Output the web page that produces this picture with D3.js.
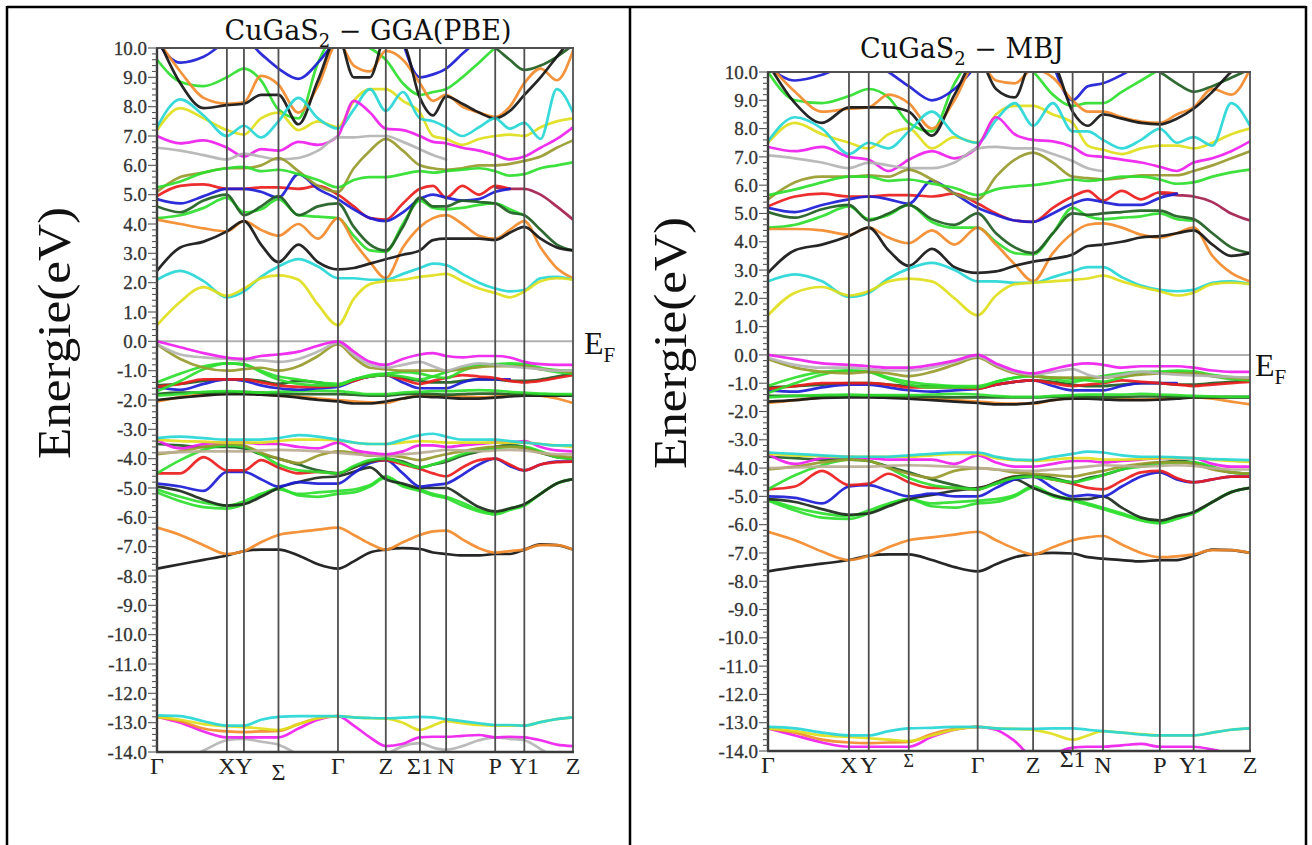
<!DOCTYPE html>
<html>
<head>
<meta charset="utf-8">
<script src="https://cdn.jsdelivr.net/npm/d3@7"></script>
<style>
  body { margin: 0; background: #fff; }
  svg { display: block; }
</style>
</head>
<body>
<svg id="fig" width="1312" height="845"></svg>
<script>
// k-path of the chalcopyrite cell
const kNames = ["Γ", "X", "Y", "Σ", "Γ", "Z", "Σ1", "N", "P", "Y1", "Z"];
const kPos = [0, .168, .209, .292, .435, .55, .632, .695, .813, .883, 1];
const kGrid = [0, .056, .112, .168, .209, .25, .292, .34, .387, .435, .473, .512, .55,
               .591, .632, .6635, .695, .734, .774, .813, .848, .883, .922, .961, 1];
const yTicks = [10, 9, 8, 7, 6, 5, 4, 3, 2, 1, 0, -1, -2, -3, -4, -5, -6, -7, -8, -9, -10, -11, -12, -13, -14];
const _ = null;

// ---------- GGA(PBE) ----------
const ggaCore = [
  [-14.6,-14.3,-13.95,-13.6,-13.55, -13.65,-13.75,-14.1,-14.5,-14.6, -14.6,-14.4,-14.1,-13.8,-13.7, -13.85,-13.92,-13.8,-13.6,-13.5, -13.55,-13.6,-13.9,-14.2,-14.4],
  [-12.8,-13.0,-13.3,-13.5,-13.5, -13.5,-13.5,-13.2,-12.9,-12.78, -13.1,-13.5,-13.8,-13.72,-13.5, -13.48,-13.48,-13.45,-13.42,-13.5, -13.48,-13.5,-13.6,-13.75,-13.8],
  [-12.8,-12.95,-13.2,-13.3,-13.32, -13.3,-13.28,-13.05,-12.85,-12.78, _,_,_,_,_, _,_,_,_,_, _,_,_,_,_],
  [-12.8,-12.9,-13.05,-13.12,-13.15, -13.2,-13.25,-13.05,-12.85,-12.78, -12.82,-12.85,-12.86,-13.0,-13.25, -13.1,-12.95,-13.02,-13.08,-13.1, -13.1,-13.1,-12.98,-12.88,-12.82],
  [-12.75,-12.78,-12.95,-13.1,-13.1, -12.9,-12.8,-12.78,-12.78,-12.78, -12.82,-12.84,-12.85,-12.83,-12.8, -12.82,-12.88,-12.95,-13.02,-13.08, -13.08,-13.1,-12.98,-12.88,-12.82]
];
const ggaLow = [
  [-7.75,-7.6,-7.45,-7.3,-7.15, -7.1,-7.1,-7.3,-7.6,-7.75, -7.5,-7.2,-7.1,-7.05,-7.08, -7.2,-7.25,-7.3,-7.3,-7.25, -7.25,-7.1,-6.92,-6.95,-7.1],
  [-6.35,-6.6,-6.95,-7.25,-7.15, -6.85,-6.6,-6.5,-6.42,-6.35, -6.6,-6.9,-7.1,-6.85,-6.6, -6.48,-6.45,-6.75,-7.05,-7.2, -7.15,-7.1,-6.95,-6.95,-7.1],
  [-5.15,-5.45,-5.65,-5.7,-5.55, -5.25,-5.0,-5.25,-5.3,-5.2, -5.15,-4.95,-4.65,-4.95,-5.1, -5.25,-5.35,-5.6,-5.8,-5.9, -5.75,-5.6,-5.2,-4.85,-4.7],
  [-5.05,-5.3,-5.5,-5.6,-5.45, -5.2,-5.05,-5.2,-5.15,-5.1, -5.05,-4.9,-4.6,-4.9,-5.05, -5.2,-5.3,-5.5,-5.75,-5.85, -5.7,-5.55,-5.2,-4.85,-4.7],
  [-4.95,-5.1,-5.4,-5.6,-5.55, -5.3,-5.0,-4.8,-4.65,-4.6, -4.45,-4.3,-4.7,-4.85,-5.0, -5.0,-5.0,-5.3,-5.65,-5.8, -5.7,-5.55,-5.2,-4.85,-4.7],
  [-4.85,-4.95,-5.1,-4.45,-4.45, -4.7,-4.95,-4.8,-4.85,-4.85, -4.5,-4.15,-4.05,-4.5,-4.95, -4.9,-4.85,-4.55,-4.2,-4.0, -4.25,-4.4,-4.2,-4.1,-4.1],
  [-4.5,-4.5,-3.95,-4.4,-4.4, -4.05,-4.3,-4.5,-4.45,-4.5, -4.3,-4.1,-4.05,-4.2,-4.35, -4.5,-4.6,-4.3,-4.05,-4.0, -4.2,-4.4,-4.2,-4.12,-4.1],
  [-3.5,-3.55,-3.6,-3.6,-3.65, -3.85,-4.0,-4.2,-4.4,-4.5, -4.3,-4.1,-4.0,-4.1,-4.3, -4.2,-4.1,-3.9,-3.75,-3.6, -3.55,-3.6,-3.8,-3.95,-4.0],
  [-4.5,-4.05,-3.7,-3.55,-3.6, -3.85,-4.2,-4.4,-4.45,-4.5, -4.25,-4.05,-4.0,-4.15,-4.3, -4.2,-4.05,-3.85,-3.7,-3.65, -3.6,-3.6,-3.75,-3.95,-4.0],
  [-3.85,-3.75,-3.6,-3.5,-3.55, -3.8,-4.0,-4.15,-3.9,-3.75, -3.8,-3.9,-3.9,-3.95,-4.05, -3.95,-3.85,-3.75,-3.65,-3.6, -3.6,-3.65,-3.8,-3.9,-3.95],
  [-3.8,-3.78,-3.75,-3.75,-3.75, -3.72,-3.7,-3.72,-3.75,-3.8, -3.85,-3.88,-3.9,-3.85,-3.8, -3.75,-3.7,-3.72,-3.75,-3.72, -3.7,-3.72,-3.8,-3.85,-3.85],
  [-3.35,-3.65,-3.5,-3.45,-3.45, -3.5,-3.5,-3.6,-3.65,-3.45, -3.7,-3.8,-3.85,-3.75,-3.55, -3.55,-3.6,-3.55,-3.5,-3.45, -3.45,-3.4,-3.6,-3.72,-3.75],
  [-3.35,-3.4,-3.42,-3.45,-3.45, -3.45,-3.4,-3.35,-3.35,-3.38, -3.45,-3.5,-3.5,-3.45,-3.4, -3.42,-3.45,-3.45,-3.45,-3.45, -3.45,-3.45,-3.5,-3.55,-3.6],
  [-3.3,-3.25,-3.3,-3.35,-3.35, -3.35,-3.3,-3.2,-3.25,-3.35, -3.45,-3.5,-3.5,-3.35,-3.2, -3.15,-3.25,-3.35,-3.35,-3.35, -3.4,-3.45,-3.5,-3.55,-3.55]
];
const ggaVal = [
  [-2.05,-1.9,-1.82,-1.78,-1.78, -1.8,-1.85,-1.88,-1.95,-2.0, -2.05,-2.08,-2.1,-1.95,-1.85, -1.85,-1.85,-1.88,-1.9,-1.88, -1.82,-1.8,-1.85,-1.95,-2.1],
  [-2.0,-1.92,-1.85,-1.8,-1.8, -1.82,-1.85,-1.92,-2.0,-2.05, -2.12,-2.12,-2.05,-1.95,-1.88, -1.9,-1.92,-1.95,-1.95,-1.92, -1.88,-1.85,-1.85,-1.85,-1.85],
  [-1.8,-1.75,-1.75,-1.75,-1.72, -1.75,-1.78,-1.8,-1.8,-1.8, -1.82,-1.85,-1.85,-1.8,-1.78, -1.8,-1.82,-1.8,-1.78,-1.78, -1.8,-1.8,-1.82,-1.82,-1.85],
  [-1.85,-1.8,-1.72,-1.7,-1.72, -1.75,-1.72,-1.7,-1.68,-1.7, -1.75,-1.8,-1.8,-1.75,-1.72, -1.7,-1.7,-1.68,-1.66,-1.68, -1.72,-1.75,-1.78,-1.8,-1.8],
  [-1.5,-1.45,-1.35,-1.3,-1.3, -1.35,-1.45,-1.35,-1.4,-1.5, -1.3,-1.2,-1.15,-1.25,-1.35, -1.4,-1.4,-1.35,-1.3,-1.3, -1.35,-1.35,-1.3,-1.2,-1.1],
  [-1.55,-1.65,-1.45,-1.3,-1.35, -1.5,-1.6,-1.65,-1.6,-1.55, -1.35,-1.2,-1.15,-1.4,-1.6, -1.6,-1.6,-1.4,-1.3,-1.3, -1.3,_,_,_,_],
  [-1.55,-1.45,-1.3,-1.3,-1.3, -1.4,-1.5,-1.55,-1.55,-1.5, -1.35,-1.2,-1.15,-1.3,-1.45, -1.35,-1.25,-1.15,-1.2,-1.25, -1.35,-1.4,-1.35,-1.25,-1.15],
  [-1.7,-1.35,-0.95,-0.75,-0.78, -1.05,-1.3,-1.45,-1.5,-1.5, -1.3,-1.15,-1.1,-1.05,-1.1, -1.2,-1.25,-1.0,-0.85,-0.8, -0.8,-0.85,-0.95,-1.05,-1.1],
  [-1.4,-1.1,-0.85,-0.75,-0.8, -1.0,-1.2,-1.3,-1.4,-1.45, -1.3,-1.2,-1.15,-1.2,-1.3, -1.2,-1.05,-0.9,-0.8,-0.78, -0.75,-0.78,-0.9,-0.98,-1.0],
  [-0.1,-0.6,-0.9,-1.0,-0.95, -0.9,-1.0,-0.85,-0.5,-0.1, -0.55,-0.9,-0.95,-1.0,-1.0, -1.0,-1.0,-0.95,-0.88,-0.85, -0.85,-0.85,-0.95,-1.0,-1.05],
  [-0.1,-0.45,-0.55,-0.6,-0.65, -0.65,-0.7,-0.6,-0.35,-0.05, -0.45,-0.8,-0.9,-0.8,-0.7, -0.85,-1.0,-0.85,-0.75,-0.8, -0.85,-0.9,-0.95,-1.0,-1.0],
  [0.0,-0.2,-0.4,-0.55,-0.6, -0.5,-0.45,-0.35,-0.15,0.0, -0.35,-0.7,-0.8,-0.6,-0.45, -0.4,-0.5,-0.55,-0.5,-0.5, -0.55,-0.7,-0.78,-0.8,-0.8]
];
const ggaCond = [
  [_,_,_,_,_, _,_,_,_,_, _,_,_,_,_, _,_,_,_,5.25, 5.2,5.2,5.0,4.6,4.15],
  [4.95,5.3,5.35,5.2,5.2, 5.25,5.25,5.2,5.3,5.0, 4.6,4.2,4.15,4.7,5.2, 5.3,4.9,5.3,5.0,5.3, 5.2,_,_,_,_],
  [4.85,4.7,4.95,5.2,5.2, 5.1,4.9,5.7,5.2,4.85, 4.5,4.2,4.1,4.4,4.85, 5.0,4.9,4.8,4.85,5.1, 5.2,_,_,_,_],
  [4.2,4.3,4.55,4.9,4.4, 4.5,4.85,4.3,4.25,4.2, 3.6,3.1,3.05,4.0,4.8, 4.55,4.5,4.55,4.65,4.7, 4.5,4.3,_,_,_],
  [4.6,4.4,4.8,5.0,4.3, 4.6,4.95,4.3,4.6,4.7, 3.9,3.3,3.1,3.9,4.9, 4.6,4.6,4.8,4.75,4.7, 4.4,4.3,3.8,3.3,3.1],
  [4.15,4.0,3.85,3.75,4.1, 3.8,3.6,4.0,3.5,4.2, 3.4,2.7,2.15,3.2,3.9, 4.2,4.3,4.0,3.6,3.5, 3.8,4.1,3.2,2.5,2.15],
  [2.4,3.2,3.4,3.75,4.1, 3.3,2.7,3.3,2.7,2.45, 2.5,2.65,2.8,2.95,3.1, 3.45,3.5,3.5,3.5,3.45, 3.7,3.9,3.5,3.2,3.1],
  [2.1,2.4,2.05,1.5,1.7, 2.2,2.55,2.8,2.55,2.15, 2.15,2.1,2.1,2.3,2.5, 2.65,2.6,2.3,2.0,1.8, 1.7,1.75,2.15,2.2,2.1],
  [0.55,1.35,1.85,1.55,1.8, 2.15,2.25,2.1,1.25,0.55, 1.45,1.95,2.05,2.1,2.2, 2.25,2.3,2.05,1.8,1.65, 1.5,1.7,2.05,2.15,2.1]
];
const ggaHigh = [
  [_,_,_,_,_, _,_,_,_,_, _,_,_,_,_, _,_,_,10.3,10.0, 9.6,9.25,9.4,9.7,10.1],
  [9.6,8.85,8.7,9.0,9.3, 8.9,7.9,7.6,9.5,10.5, 10.3,10.0,9.6,8.8,8.4, 8.5,8.6,9.0,9.5,10.0, 10.3,_,_,_,_],
  [10.2,9.5,9.7,10.2,10.3, 9.8,9.3,8.95,9.5,10.4, _,_,_,10.2,9.0, 9.1,9.3,9.8,10.3,_, _,_,_,_,_],
  [10.3,9.2,8.3,8.1,8.15, 9.05,8.75,7.8,8.7,10.2, 9.4,9.2,9.9,9.6,8.8, 8.2,8.4,8.0,7.8,7.65, 8.0,8.8,9.3,8.9,9.9],
  [10.4,8.8,7.95,8.05,8.1, 8.4,8.4,7.4,8.9,10.4, 9.0,9.0,10.4,10.2,8.3, 7.7,8.35,8.1,7.8,7.6, 7.85,8.4,9.0,9.7,10.4],
  [7.2,7.95,7.6,7.2,7.05, 7.6,7.8,7.2,7.5,7.3, 8.2,8.6,8.6,8.2,7.8, 7.0,6.9,6.7,6.9,7.0, 7.05,7.0,7.3,7.5,7.6],
  [7.3,8.25,7.7,7.0,7.35, 6.95,7.5,8.3,7.6,7.25, 7.9,8.6,7.85,8.5,7.6, 7.5,7.3,7.0,7.3,7.6, 7.25,7.45,6.9,8.6,7.8],
  [7.0,6.75,6.85,6.6,6.3, 6.55,6.5,6.8,6.7,7.0, 8.2,7.8,7.25,7.2,7.0, 6.8,6.75,6.6,6.5,6.35, 6.2,6.3,6.6,6.9,7.3],
  [6.6,6.5,6.35,6.2,6.4, 6.3,6.2,6.25,6.5,6.95, 6.95,7.0,7.0,6.8,6.55, 6.35,6.2,_,_,_, _,_,_,_,_],
  [5.1,5.6,5.75,5.9,5.9, 6.0,6.25,5.8,5.3,5.1, 5.9,6.5,6.9,6.5,6.0, 5.9,5.85,5.9,6.0,6.0, 6.05,6.15,6.3,6.6,6.85],
  [5.25,5.45,5.75,5.9,5.95, 5.8,5.85,5.7,5.5,5.25, 5.5,5.6,5.6,5.7,5.8, 5.75,5.8,5.85,5.9,5.8, 5.65,5.7,5.9,6.0,6.1]
];

// ---------- MBJ ----------
const mbjCore = [
  [_,_,_,_,_, _,_,_,_,_, _,_,_,_,_, _,_,_,_,_, _,_,_,_,_],
  [-13.2,-13.45,-13.7,-13.85,-13.85, -13.85,-13.85,-13.5,-13.25,-13.15, -13.25,-13.65,-14.2,-14.1,-13.88, -13.85,-13.85,-13.8,-13.75,-13.85, -13.85,-13.85,-13.95,-14.1,-14.2],
  [-13.2,-13.35,-13.6,-13.7,-13.72, -13.7,-13.68,-13.4,-13.22,-13.15, _,_,_,_,_, _,_,_,_,_, _,_,_,_,_],
  [-13.2,-13.3,-13.45,-13.5,-13.55, -13.6,-13.65,-13.45,-13.25,-13.15, -13.2,-13.22,-13.25,-13.4,-13.6, -13.45,-13.3,-13.35,-13.4,-13.45, -13.45,-13.45,-13.35,-13.25,-13.2],
  [-13.15,-13.2,-13.35,-13.45,-13.45, -13.3,-13.2,-13.18,-13.15,-13.15, -13.2,-13.22,-13.22,-13.2,-13.2, -13.25,-13.3,-13.35,-13.42,-13.45, -13.45,-13.45,-13.35,-13.25,-13.2]
];
const mbjLow = [
  [-7.65,-7.5,-7.38,-7.25,-7.1, -7.05,-7.05,-7.25,-7.5,-7.65, -7.4,-7.15,-7.05,-7.0,-7.02, -7.15,-7.2,-7.25,-7.3,-7.25, -7.25,-7.1,-6.88,-6.9,-7.0],
  [-6.25,-6.55,-6.95,-7.25,-7.1, -6.8,-6.55,-6.45,-6.35,-6.25, -6.55,-6.85,-7.05,-6.8,-6.55, -6.45,-6.4,-6.7,-7.0,-7.15, -7.12,-7.05,-6.9,-6.9,-7.0],
  [-5.15,-5.5,-5.75,-5.8,-5.6, -5.3,-5.1,-5.35,-5.4,-5.25, -5.2,-5.0,-4.7,-5.0,-5.15, -5.3,-5.45,-5.65,-5.85,-5.95, -5.8,-5.6,-5.2,-4.85,-4.7],
  [-5.1,-5.4,-5.6,-5.7,-5.5, -5.25,-5.1,-5.25,-5.2,-5.15, -5.1,-4.95,-4.65,-4.95,-5.1, -5.25,-5.4,-5.6,-5.8,-5.9, -5.75,-5.6,-5.2,-4.85,-4.7],
  [-5.1,-5.2,-5.45,-5.65,-5.6, -5.35,-5.1,-4.95,-4.8,-4.7, -4.55,-4.4,-4.7,-4.95,-5.1, -5.1,-5.0,-5.4,-5.75,-5.85, -5.7,-5.55,-5.2,-4.85,-4.7],
  [-5.0,-5.05,-5.25,-4.65,-4.6, -4.8,-5.0,-4.9,-5.0,-5.0, -4.7,-4.4,-4.3,-4.7,-5.0, -4.95,-5.0,-4.65,-4.3,-4.15, -4.4,-4.5,-4.4,-4.3,-4.3],
  [-4.75,-4.65,-4.1,-4.6,-4.55, -4.2,-4.5,-4.7,-4.7,-4.75, -4.5,-4.3,-4.3,-4.4,-4.55, -4.7,-4.75,-4.45,-4.15,-4.1, -4.35,-4.5,-4.4,-4.3,-4.3],
  [-3.6,-3.65,-3.7,-3.7,-3.75, -3.95,-4.15,-4.4,-4.6,-4.75, -4.5,-4.3,-4.25,-4.35,-4.5, -4.35,-4.25,-4.05,-3.9,-3.8, -3.75,-3.8,-4.0,-4.15,-4.2],
  [-4.75,-4.25,-3.9,-3.7,-3.75, -4.0,-4.35,-4.6,-4.7,-4.75, -4.55,-4.35,-4.3,-4.4,-4.5, -4.4,-4.25,-4.05,-3.95,-3.85, -3.8,-3.8,-3.95,-4.15,-4.2],
  [-4.05,-3.95,-3.8,-3.7,-3.75, -4.0,-4.2,-4.35,-4.1,-4.0, -4.05,-4.15,-4.2,-4.25,-4.3, -4.2,-4.1,-3.95,-3.85,-3.8, -3.8,-3.85,-4.05,-4.15,-4.2],
  [-4.0,-3.98,-3.95,-3.95,-3.95, -3.92,-3.9,-3.92,-3.95,-4.0, -4.05,-4.08,-4.1,-4.05,-4.0, -3.95,-3.9,-3.92,-3.95,-3.92, -3.9,-3.92,-4.0,-4.05,-4.05],
  [-3.5,-3.85,-3.65,-3.6,-3.65, -3.7,-3.7,-3.7,-3.85,-3.55, -3.8,-3.95,-3.95,-3.85,-3.75, -3.75,-3.8,-3.75,-3.7,-3.65, -3.65,-3.65,-3.85,-3.95,-3.95],
  [-3.5,-3.55,-3.58,-3.6,-3.6, -3.6,-3.6,-3.55,-3.5,-3.5, -3.65,-3.72,-3.75,-3.7,-3.65, -3.65,-3.7,-3.7,-3.68,-3.65, -3.65,-3.65,-3.7,-3.75,-3.78],
  [-3.45,-3.5,-3.55,-3.6,-3.6, -3.6,-3.55,-3.5,-3.45,-3.45, -3.6,-3.7,-3.72,-3.6,-3.5, -3.42,-3.45,-3.55,-3.6,-3.6, -3.62,-3.65,-3.68,-3.7,-3.72]
];
const mbjVal = [
  [-1.7,-1.6,-1.5,-1.45,-1.45, -1.48,-1.52,-1.55,-1.6,-1.65, -1.7,-1.72,-1.72,-1.6,-1.52, -1.52,-1.52,-1.55,-1.58,-1.55, -1.5,-1.5,-1.55,-1.65,-1.75],
  [-1.65,-1.6,-1.52,-1.5,-1.5, -1.52,-1.55,-1.6,-1.65,-1.7, -1.75,-1.75,-1.7,-1.6,-1.55, -1.55,-1.57,-1.6,-1.6,-1.58, -1.55,-1.5,-1.5,-1.5,-1.5],
  [-1.45,-1.45,-1.45,-1.45,-1.43, -1.45,-1.47,-1.48,-1.5,-1.5, -1.5,-1.5,-1.5,-1.48,-1.47, -1.48,-1.5,-1.48,-1.47,-1.47, -1.48,-1.48,-1.48,-1.48,-1.48],
  [-1.5,-1.45,-1.42,-1.4,-1.42, -1.42,-1.42,-1.4,-1.38,-1.4, -1.45,-1.48,-1.48,-1.45,-1.42, -1.4,-1.4,-1.4,-1.38,-1.4, -1.42,-1.45,-1.47,-1.48,-1.48],
  [-1.15,-1.1,-1.05,-1.0,-1.0, -1.05,-1.1,-1.1,-1.12,-1.15, -1.05,-0.95,-0.9,-0.95,-1.05, -1.1,-1.1,-1.05,-1.0,-1.0, -1.05,-1.05,-1.0,-0.95,-0.9],
  [-1.25,-1.3,-1.15,-1.05,-1.05, -1.15,-1.25,-1.3,-1.25,-1.2, -1.05,-0.95,-0.9,-1.1,-1.25, -1.25,-1.25,-1.1,-1.0,-1.0, -1.0,_,_,_,_],
  [-1.2,-1.1,-1.0,-1.0,-1.0, -1.05,-1.15,-1.15,-1.15,-1.2, -1.05,-0.95,-0.9,-1.0,-1.1, -1.05,-1.0,-0.9,-0.95,-1.0, -1.05,-1.1,-1.05,-1.0,-0.95],
  [-1.35,-1.0,-0.7,-0.55,-0.6, -0.85,-1.05,-1.15,-1.15,-1.15, -0.95,-0.8,-0.75,-0.8,-0.85, -0.9,-0.95,-0.8,-0.65,-0.6, -0.6,-0.65,-0.75,-0.85,-0.9],
  [-1.1,-0.8,-0.6,-0.55,-0.6, -0.8,-0.95,-1.05,-1.1,-1.1, -0.95,-0.8,-0.75,-0.85,-0.95, -0.85,-0.75,-0.65,-0.6,-0.6, -0.55,-0.58,-0.7,-0.78,-0.8],
  [-0.15,-0.45,-0.6,-0.65,-0.6, -0.65,-0.75,-0.6,-0.35,-0.1, -0.4,-0.65,-0.75,-0.8,-0.8, -0.8,-0.8,-0.75,-0.7,-0.65, -0.65,-0.65,-0.75,-0.8,-0.85],
  [-0.1,-0.35,-0.45,-0.45,-0.5, -0.55,-0.55,-0.45,-0.25,-0.05, -0.35,-0.6,-0.7,-0.6,-0.5, -0.7,-0.8,-0.7,-0.6,-0.65, -0.7,-0.72,-0.75,-0.78,-0.8],
  [0.0,-0.15,-0.3,-0.35,-0.4, -0.45,-0.45,-0.35,-0.2,0.0, -0.3,-0.55,-0.65,-0.5,-0.35, -0.3,-0.35,-0.45,-0.4,-0.4, -0.4,-0.45,-0.55,-0.6,-0.6]
];
const mbjCond = [
  [_,_,_,_,_, _,_,_,_,_, _,_,_,_,_, _,_,_,_,5.7, 5.65,5.6,5.4,5.0,4.75],
  [5.25,5.6,5.7,5.6,5.6, 5.65,5.65,5.6,5.7,5.35, 5.0,4.75,4.7,5.2,5.6, 5.8,5.45,5.8,5.5,5.75, 5.7,_,_,_,_],
  [5.2,5.05,5.3,5.5,5.6, 5.5,5.35,6.15,5.7,5.2, 4.95,4.75,4.7,5.0,5.35, 5.5,5.4,5.3,5.3,5.55, 5.7,_,_,_,_],
  [4.5,4.6,4.9,5.25,4.8, 4.95,5.3,4.7,4.5,4.5, 4.0,3.6,3.55,4.3,5.2, 4.9,4.8,4.85,4.9,5.0, 4.8,4.75,_,_,_],
  [5.05,4.85,5.15,5.3,4.75, 5.0,5.3,4.8,4.6,5.0, 4.3,3.8,3.6,4.3,5.0, 4.95,5.0,5.05,5.1,5.1, 4.9,4.8,4.3,3.8,3.6],
  [4.45,4.45,4.4,4.25,4.5, 4.15,3.95,4.4,3.9,4.5, 3.9,3.2,2.6,3.6,4.3, 4.6,4.65,4.5,4.25,4.15, 4.3,4.5,3.5,2.9,2.6],
  [2.9,3.7,3.9,4.2,4.5, 3.7,3.15,3.75,3.1,2.9, 2.95,3.15,3.3,3.4,3.55, 3.85,3.9,4.0,4.15,4.2, 4.3,4.4,3.9,3.5,3.6],
  [2.6,2.85,2.6,2.05,2.2, 2.7,3.05,3.25,3.0,2.6, 2.6,2.55,2.55,2.75,2.95, 3.1,3.1,2.75,2.45,2.3, 2.25,2.3,2.55,2.6,2.5],
  [1.4,2.2,2.4,2.1,2.25, 2.6,2.7,2.6,2.0,1.4, 2.1,2.5,2.55,2.6,2.65, 2.7,2.8,2.6,2.4,2.25, 2.1,2.2,2.5,2.55,2.5]
];
const mbjHigh = [
  [_,_,_,_,_, _,_,_,_,_, _,_,_,_,_, _,_,_,10.3,10.0, 9.6,9.3,9.5,9.8,10.1],
  [10.0,9.0,8.9,9.15,9.4, 9.1,8.2,7.9,9.6,10.6, 10.5,10.3,10.0,9.2,8.8, 8.9,8.9,9.3,9.7,10.1, _,_,_,_,_],
  [10.2,9.7,9.9,10.3,10.4, 10.0,9.5,9.0,9.4,10.3, _,_,_,10.3,9.0, 9.5,9.6,9.9,10.3,_, _,_,_,_,_],
  [10.3,9.3,8.6,8.7,8.75, 9.2,8.9,8.0,9.0,10.4, 9.7,9.6,10.1,9.8,9.0, 8.6,8.6,8.4,8.25,8.2, 8.5,8.75,9.4,9.2,10.1],
  [10.3,8.9,8.2,8.75,8.75, 8.75,8.6,7.75,9.2,10.5, 9.4,9.1,10.5,10.3,8.6, 8.1,8.5,8.35,8.2,8.15, 8.35,8.7,9.3,10.0,10.5],
  [7.5,8.2,7.8,7.5,7.3, 7.8,8.0,7.3,7.7,7.5, 8.5,8.8,8.8,8.5,8.2, 7.4,7.25,7.1,7.3,7.4, 7.4,7.3,7.5,7.8,8.0],
  [7.55,8.4,8.0,7.1,7.5, 7.3,7.9,8.6,7.8,7.5, 8.3,8.9,8.1,8.9,7.9, 7.9,7.6,7.3,7.6,8.0, 7.5,7.7,7.4,8.9,8.1],
  [7.35,7.2,7.35,7.0,6.9, 6.5,6.9,7.2,6.95,7.35, 8.4,7.8,7.6,7.55,7.35, 7.05,7.0,6.9,6.8,6.65, 6.5,6.8,6.95,7.2,7.55],
  [7.05,6.95,6.8,6.6,6.8, 6.7,6.6,6.6,6.8,7.3, 7.35,7.3,7.3,7.1,6.85, 6.6,6.5,_,_,_, _,_,_,_,_],
  [5.5,6.1,6.3,6.3,6.35, 6.3,6.55,6.2,5.7,5.5, 6.3,6.9,7.15,6.8,6.3, 6.25,6.2,6.25,6.35,6.35, 6.35,6.5,6.7,6.95,7.2],
  [5.65,5.85,6.1,6.3,6.3, 6.15,6.2,6.05,5.9,5.65, 5.85,5.95,6.0,6.1,6.2, 6.15,6.2,6.3,6.3,6.2, 6.05,6.1,6.3,6.45,6.55]
];

// band colours, same order in both panels
const col = {
  magenta: "#ee1fee", cyan: "#27d6d6", yellow: "#dede1c", olive: "#989a2c", green: "#2ede2e",
  dkgreen: "#1f5c22", red: "#ec1c1c", blue: "#1c1cd6", black: "#141414", orange: "#f28a2a",
  maroon: "#a3204e", gray: "#b4b4b4", tan: "#bcae94", dkblack: "#1e2a1e"
};
const coreColors = [col.gray, col.magenta, col.orange, col.yellow, col.cyan];
const lowColors = [col.black, col.orange, col.green, col.green, col.dkblack, col.blue, col.red,
                   col.dkgreen, col.green, col.olive, col.tan, col.magenta, col.yellow, col.cyan];
const valColors = [col.orange, col.black, col.dkgreen, col.green, col.dkgreen, col.blue, col.red,
                   col.green, col.green, col.olive, col.gray, col.magenta];
const condColors = [col.maroon, col.red, col.blue, col.green, col.dkgreen, col.orange, col.black, col.cyan, col.yellow];
const highColors = [col.dkgreen, col.green, col.blue, col.orange, col.black, col.yellow, col.cyan,
                    col.magenta, col.gray, col.olive, col.green];

const svg = d3.select("#fig");
const serif = "'Liberation Serif', 'Times New Roman', serif";

// table frame of the original document
svg.append("g").attr("stroke", "#000").attr("stroke-width", 2.5)
  .selectAll("line")
  .data([[7, 7, 1306, 7], [7, 6, 7, 845], [630, 6, 630, 845], [1306, 6, 1306, 845]])
  .join("line")
  .attr("x1", d => d[0]).attr("y1", d => d[1]).attr("x2", d => d[2]).attr("y2", d => d[3]);

const panels = [
  { id: "gga", name: "GGA(PBE)", x0: 157, x1: 573, yt: 48, yb: 752, titleX: 368, titleY: 40,
    ylabX: 70, ylabY: 333, efX: 584, efY: 354, sigmaUp: false,
    groups: [[ggaCore, coreColors], [ggaLow, lowColors], [ggaVal, valColors], [ggaCond, condColors], [ggaHigh, highColors]] },
  { id: "mbj", name: "MBJ", x0: 768, x1: 1250, yt: 72, yb: 751, titleX: 962, titleY: 58,
    ylabX: 686, ylabY: 343, efX: 1255, efY: 376, sigmaUp: true,
    groups: [[mbjCore, coreColors], [mbjLow, lowColors], [mbjVal, valColors], [mbjCond, condColors], [mbjHigh, highColors]] }
];

panels.forEach(function(p) {
  const x = d3.scaleLinear().domain([0, 1]).range([p.x0, p.x1]);
  const y = d3.scaleLinear().domain([-14, 10]).range([p.yb, p.yt]);
  const g = svg.append("g");

  g.append("clipPath").attr("id", "clip-" + p.id)
    .append("rect").attr("x", p.x0).attr("y", p.yt).attr("width", p.x1 - p.x0).attr("height", p.yb - p.yt);

  // fermi level
  g.append("line").attr("x1", p.x0).attr("x2", p.x1).attr("y1", y(0)).attr("y2", y(0))
    .attr("stroke", "#b0b0b0").attr("stroke-width", 2);

  const line = d3.line()
    .defined(d => d[1] !== null)
    .x(d => x(d[0])).y(d => y(d[1]))
    .curve(d3.curveMonotoneX);

  const bandG = g.append("g").attr("clip-path", "url(#clip-" + p.id + ")");
  p.groups.forEach(function(grp) {
    const bands = grp[0], colors = grp[1];
    bands.forEach(function(b, i) {
      bandG.append("path")
        .attr("d", line(b.map((e, j) => [kGrid[j], e])))
        .attr("fill", "none")
        .attr("stroke", colors[i])
        .attr("stroke-width", 2.7)
        .attr("stroke-linejoin", "round")
        .attr("stroke-linecap", "round")
        .attr("opacity", 0.92);
    });
  });

  // high-symmetry lines
  g.append("g").selectAll("line").data(kPos).join("line")
    .attr("x1", d => x(d)).attr("x2", d => x(d)).attr("y1", p.yt).attr("y2", p.yb)
    .attr("stroke", "#505050").attr("stroke-width", 1.8);

  // frame
  g.append("line").attr("x1", p.x0 - 1).attr("x2", p.x1 + 1).attr("y1", p.yt).attr("y2", p.yt)
    .attr("stroke", "#505050").attr("stroke-width", 2);
  g.append("line").attr("x1", p.x0 - 1).attr("x2", p.x1 + 1).attr("y1", p.yb).attr("y2", p.yb)
    .attr("stroke", "#3a3a3a").attr("stroke-width", 2.4);
  g.append("line").attr("x1", p.x0).attr("x2", p.x0).attr("y1", p.yt).attr("y2", p.yb)
    .attr("stroke", "#3a3a3a").attr("stroke-width", 2.4);

  // ticks: minor every 0.2, major every 1
  const minor = d3.range(-14, 10.001, 0.2);
  g.append("g").selectAll("line").data(minor).join("line")
    .attr("x1", d => Math.abs(d - Math.round(d)) < 1e-6 ? p.x0 - 9 : p.x0 - 5)
    .attr("x2", p.x0).attr("y1", d => y(d)).attr("y2", d => y(d))
    .attr("stroke", "#555").attr("stroke-width", 1.1);

  g.append("g").selectAll("text").data(yTicks).join("text")
    .attr("x", p.x0 - 10).attr("y", d => y(d)).attr("dy", "0.35em")
    .attr("text-anchor", "end")
    .attr("font-family", serif).attr("font-size", 19).attr("fill", "#333")
    .attr("stroke", "#333").attr("stroke-width", 0.3)
    .text(d => d.toFixed(1));

  // k labels
  g.append("g").selectAll("text").data(kNames).join("text")
    .attr("x", (d, i) => x(kPos[i]))
    .attr("y", (d, i) => (p.sigmaUp && (d === "Σ" || d === "Σ1")) ? p.yb + 16 : (d === "Σ" ? p.yb + 28 : p.yb + 22))
    .attr("text-anchor", "middle")
    .attr("font-family", serif)
    .attr("font-size", (d) => (p.sigmaUp && d === "Σ") ? 18 : 24)
    .attr("fill", "#222")
    .text(d => d);

  // title
  const t = g.append("text").attr("x", p.titleX).attr("y", p.titleY)
    .attr("text-anchor", "middle").attr("font-family", "'DejaVu Serif', serif")
    .attr("font-size", 27).attr("fill", "#111");
  t.append("tspan").text("CuGaS");
  t.append("tspan").attr("dy", 7).attr("font-size", 18).text("2");
  t.append("tspan").attr("dy", -7).text(" − " + p.name);

  // axis title
  g.append("text")
    .attr("transform", "translate(" + p.ylabX + "," + p.ylabY + ") rotate(-90)")
    .attr("text-anchor", "middle").attr("font-family", serif)
    .attr("font-size", 46).attr("fill", "#111")
    .attr("textLength", 252).attr("lengthAdjust", "spacingAndGlyphs")
    .text("Energie(eV)");

  // fermi label
  const ef = g.append("text").attr("x", p.efX).attr("y", p.efY)
    .attr("font-family", serif).attr("font-size", 32).attr("fill", "#111");
  ef.append("tspan").text("E");
  ef.append("tspan").attr("dy", 8).attr("font-size", 21).text("F");
});
</script>
</body>
</html>
